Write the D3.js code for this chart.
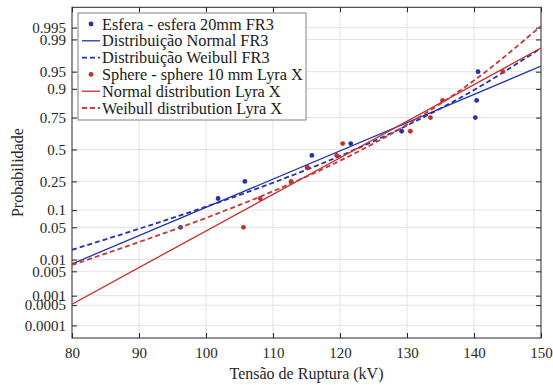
<!DOCTYPE html>
<html>
<head>
<meta charset="utf-8">
<script src="https://cdn.jsdelivr.net/npm/d3@7"></script>
<style>
  html, body { margin: 0; padding: 0; background: #fff; }
  svg, svg text { font-family: "Liberation Serif", "Times New Roman", "DejaVu Serif", serif !important; }
</style>
</head>
<body>
<svg id="chart" width="553" height="385"></svg>
<script>
// ---------------- data ----------------
const xTicks = [80, 90, 100, 110, 120, 130, 140, 150];
const probTicks = [0.0001, 0.0005, 0.001, 0.005, 0.01, 0.05, 0.1, 0.25, 0.5, 0.75, 0.9, 0.95, 0.99, 0.995];
const probTickLabels = ["0.0001", "0.0005", "0.001", "0.005", "0.01", "0.05", "0.1", "0.25", "0.5", "0.75", "0.9", "0.95", "0.99", "0.995"];

// empirical plotting positions (same for both samples)
const plotPositions = [0.05, 0.15, 0.25, 0.35, 0.45, 0.55, 0.65, 0.75, 0.85, 0.95];
// breakdown voltages (kV)
const fr3Voltage  = [96.2, 101.8, 105.8, 115.1, 115.8, 121.6, 129.2, 140.2, 140.4, 140.6];
const lyraVoltage = [105.6, 108.1, 112.7, 115.2, 119.5, 120.4, 130.5, 133.5, 135.3, 144.3];

// fitted lines
const normalFitX = [80, 150];
const fr3NormalP  = [0.0078, 0.961];
const lyraNormalP = [0.00054, 0.984];

const weibullFitX = [80, 90, 100, 110, 120, 130, 140, 150];
const fr3WeibullP  = [0.0170, 0.0468, 0.1133, 0.2412, 0.4453, 0.6941, 0.8957, 0.9839];
const lyraWeibullP = [0.00734, 0.0252, 0.0740, 0.1887, 0.4060, 0.7006, 0.9275, 0.9955];

const legendLabels = [
  "Esfera - esfera 20mm FR3",
  "Distribuição Normal FR3",
  "Distribuição Weibull FR3",
  "Sphere - sphere 10 mm Lyra X",
  "Normal distribution Lyra X",
  "Weibull distribution Lyra X"
];

// ---------------- styles ----------------
const BLUE = "#2233aa";
const RED = "#cc2b2b";
const RED_DASH = "#c23a3a";
const AXIS = "#262626";
const GRID = "#e3e3e3";
const FONT = '"Liberation Serif", "Times New Roman", "DejaVu Serif", serif';

// ---------------- helpers ----------------
// inverse standard normal CDF (Acklam) – used for the probability-paper scale
function normInv(p) {
  const a = [-3.969683028665376e+01, 2.209460984245205e+02, -2.759285104469687e+02, 1.383577518672690e+02, -3.066479806614716e+01, 2.506628277459239e+00];
  const b = [-5.447609879822406e+01, 1.615858368580409e+02, -1.556989798598866e+02, 6.680131188771972e+01, -1.328068155288572e+01];
  const c = [-7.784894002430293e-03, -3.223964580411365e-01, -2.400758277161838e+00, -2.549732539343734e+00, 4.374664141464968e+00, 2.938163982698783e+00];
  const d = [7.784695709041462e-03, 3.224671290700398e-01, 2.445134137142996e+00, 3.754408661907416e+00];
  const pl = 0.02425, ph = 1 - pl;
  let q, r;
  if (p < pl) {
    q = Math.sqrt(-2 * Math.log(p));
    return (((((c[0]*q+c[1])*q+c[2])*q+c[3])*q+c[4])*q+c[5]) / ((((d[0]*q+d[1])*q+d[2])*q+d[3])*q+1);
  } else if (p <= ph) {
    q = p - 0.5; r = q*q;
    return (((((a[0]*r+a[1])*r+a[2])*r+a[3])*r+a[4])*r+a[5])*q / (((((b[0]*r+b[1])*r+b[2])*r+b[3])*r+b[4])*r+1);
  } else {
    q = Math.sqrt(-2 * Math.log(1 - p));
    return -(((((c[0]*q+c[1])*q+c[2])*q+c[3])*q+c[4])*q+c[5]) / ((((d[0]*q+d[1])*q+d[2])*q+d[3])*q+1);
  }
}

// ---------------- layout ----------------
const L = 72, R = 541, T = 7.3, B = 338;
const svg = d3.select("#chart");
svg.append("rect").attr("width", 553).attr("height", 385).attr("fill", "#fff");

const x = d3.scaleLinear().domain([80, 150]).range([L, R]);
const z = d3.scaleLinear().domain([-3.985, 3.006]).range([B, T]);
const y = p => z(normInv(p));

// grid
const grid = svg.append("g");
grid.selectAll("line.gx").data(xTicks.slice(1, -1)).join("line")
  .attr("x1", d => x(d)).attr("x2", d => x(d)).attr("y1", T).attr("y2", B)
  .attr("stroke", GRID).attr("stroke-width", 1);
grid.selectAll("line.gy").data(probTicks).join("line")
  .attr("x1", L).attr("x2", R).attr("y1", d => y(d)).attr("y2", d => y(d))
  .attr("stroke", GRID).attr("stroke-width", 1);

// axes using d3 axis generators (ticks inward, MATLAB style)
const xAxis = d3.axisBottom(x).tickValues(xTicks).tickSize(-5).tickPadding(9).tickFormat(d3.format("d"));
const gx = svg.append("g").attr("transform", `translate(0,${B})`).call(xAxis)
  .attr("font-family", FONT).attr("font-size", 15);
gx.select(".domain").remove();
gx.selectAll("line").attr("stroke", AXIS);
gx.selectAll("text").attr("fill", AXIS).style("font-family", FONT).style("font-size", "15px");

const yAxisScale = d3.scaleLinear().domain(z.domain()).range(z.range());
const yAxis = d3.axisLeft(yAxisScale).tickValues(probTicks.map(normInv)).tickSize(-5).tickPadding(6)
  .tickFormat((d, i) => probTickLabels[i]);
const gy = svg.append("g").attr("transform", `translate(${L},0)`).call(yAxis)
  .attr("font-family", FONT).attr("font-size", 15);
gy.select(".domain").remove();
gy.selectAll("line").attr("stroke", AXIS);
gy.selectAll("text").attr("fill", AXIS).style("font-family", FONT).style("font-size", "15px");

// mirrored ticks on right and top
const yAxisR = d3.axisRight(yAxisScale).tickValues(probTicks.map(normInv)).tickSize(-5).tickFormat("");
const gyr = svg.append("g").attr("transform", `translate(${R},0)`).call(yAxisR);
gyr.select(".domain").remove();
gyr.selectAll("line").attr("stroke", AXIS);
const xAxisT = d3.axisTop(x).tickValues(xTicks).tickSize(-5).tickFormat("");
const gxt = svg.append("g").attr("transform", `translate(0,${T})`).call(xAxisT);
gxt.select(".domain").remove();
gxt.selectAll("line").attr("stroke", AXIS);

// frame
svg.append("rect").attr("x", L).attr("y", T).attr("width", R - L).attr("height", B - T)
  .attr("fill", "none").attr("stroke", AXIS).attr("stroke-width", 1);

// clip for lines
svg.append("clipPath").attr("id", "clip").append("rect")
  .attr("x", L).attr("y", T).attr("width", R - L).attr("height", B - T);

const plot = svg.append("g").attr("clip-path", "url(#clip)");

const lineGen = d3.line().x(d => x(d[0])).y(d => y(d[1]));
const curveGen = d3.line().x(d => x(d[0])).y(d => y(d[1])).curve(d3.curveMonotoneX);

// FR3 points
plot.selectAll("circle.fr3").data(d3.zip(fr3Voltage, plotPositions)).join("circle")
  .attr("cx", d => x(d[0])).attr("cy", d => y(d[1])).attr("r", 2.4).attr("fill", BLUE);
// FR3 normal
plot.append("path").datum(d3.zip(normalFitX, fr3NormalP)).attr("d", lineGen)
  .attr("fill", "none").attr("stroke", BLUE).attr("stroke-width", 1.3);
// FR3 weibull
plot.append("path").datum(d3.zip(weibullFitX, fr3WeibullP)).attr("d", curveGen)
  .attr("fill", "none").attr("stroke", BLUE).attr("stroke-width", 1.8).attr("stroke-dasharray", "5,3");
// Lyra points
plot.selectAll("circle.lyra").data(d3.zip(lyraVoltage, plotPositions)).join("circle")
  .attr("cx", d => x(d[0])).attr("cy", d => y(d[1])).attr("r", 2.4).attr("fill", RED);
// Lyra normal
plot.append("path").datum(d3.zip(normalFitX, lyraNormalP)).attr("d", lineGen)
  .attr("fill", "none").attr("stroke", RED).attr("stroke-width", 1.3);
// Lyra weibull
plot.append("path").datum(d3.zip(weibullFitX, lyraWeibullP)).attr("d", curveGen)
  .attr("fill", "none").attr("stroke", RED_DASH).attr("stroke-width", 1.8).attr("stroke-dasharray", "5,3");

// axis titles
svg.append("text").attr("x", (L + R) / 2).attr("y", 379).attr("text-anchor", "middle")
  .style("font-family", FONT).attr("font-size", 16).attr("fill", AXIS).text("Tensão de Ruptura (kV)");
svg.append("text").attr("transform", `translate(23,${(T + B) / 2}) rotate(-90)`).attr("text-anchor", "middle")
  .style("font-family", FONT).attr("font-size", 16).attr("fill", AXIS).text("Probabilidade");

// legend
const lg = svg.append("g");
lg.append("rect").attr("x", 78).attr("y", 13).attr("width", 228).attr("height", 107)
  .attr("fill", "#fff").attr("stroke", "#808080").attr("stroke-width", 1);
const rowY = d3.range(6).map(i => 24 + i * 16.8);
const kinds = ["dot", "solid", "dash", "dot", "solid", "dash"];
const colors = [BLUE, BLUE, BLUE, RED, RED, RED_DASH];
kinds.forEach((k, i) => {
  const yy = rowY[i];
  if (k === "dot") {
    lg.append("circle").attr("cx", 91).attr("cy", yy).attr("r", 2.4).attr("fill", colors[i]);
  } else {
    lg.append("line").attr("x1", 82).attr("x2", 100).attr("y1", yy).attr("y2", yy)
      .attr("stroke", colors[i]).attr("stroke-width", k === "dash" ? 1.8 : 1.3)
      .attr("stroke-dasharray", k === "dash" ? "5,3" : null);
  }
  lg.append("text").attr("x", 102).attr("y", yy).attr("dy", "0.34em")
    .style("font-family", FONT).attr("font-size", 16.3).attr("fill", "#1a1a1a").text(legendLabels[i]);
});
</script>
</body>
</html>
